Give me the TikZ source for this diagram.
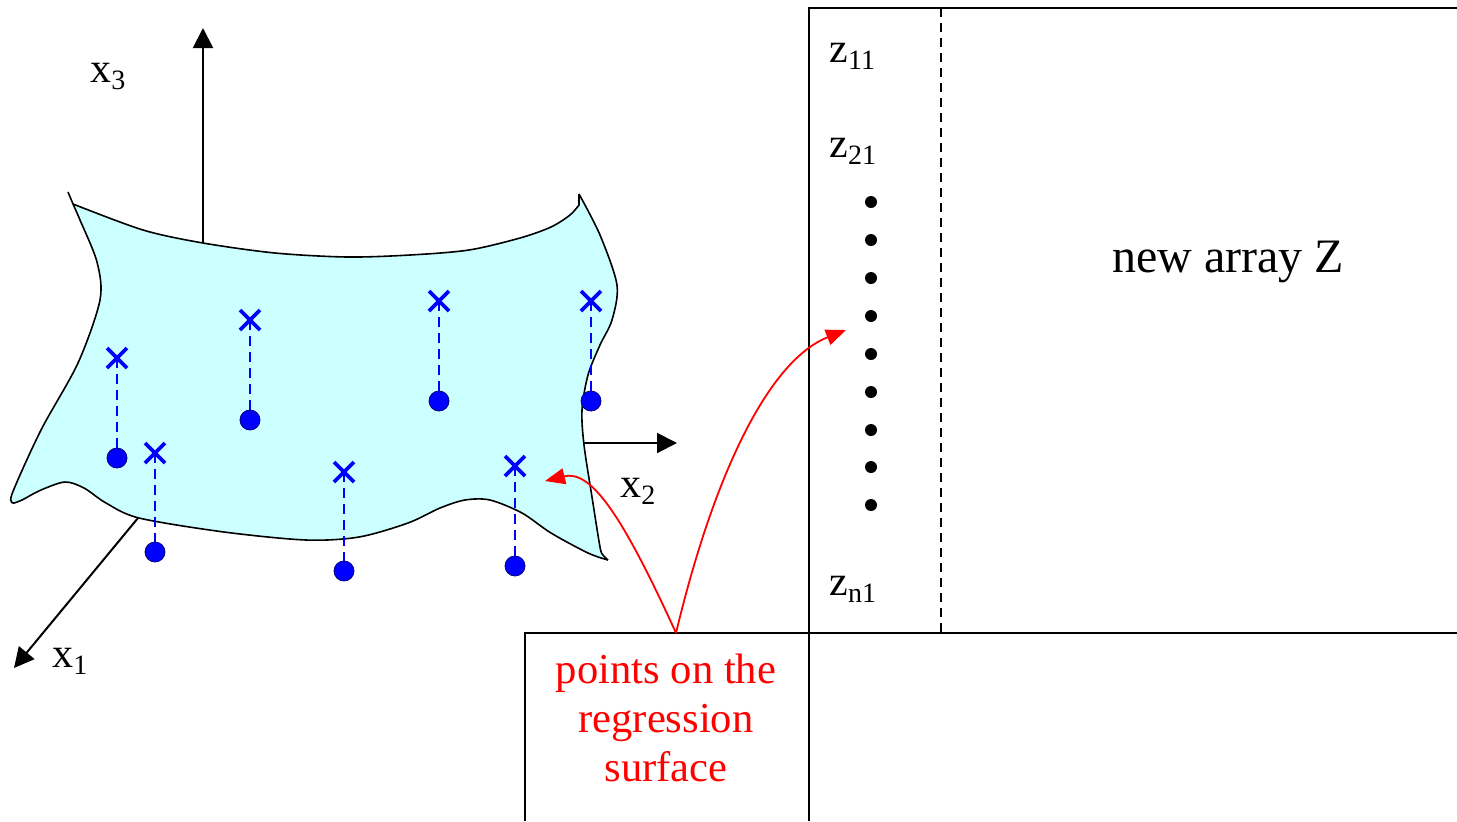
\documentclass[tikz,border=0pt]{standalone}
\usepackage{fontspec}
\setmainfont{Liberation Serif}
\usetikzlibrary{arrows.meta}
\definecolor{surfcyan}{HTML}{CCFFFF}
\newcommand\lbl[2]{#1\raisebox{-3.8pt}{\fontsize{14}{14}\selectfont #2}}
\begin{document}
\begin{tikzpicture}[x=0.5pt,y=-0.5pt,
  axis/.style={line width=1pt,-{Triangle[length=10pt,width=10pt]}},
  redarrow/.style={red,line width=0.9pt,-{Triangle[length=10pt,width=8pt]}},
  edgeline/.style={line width=0.8pt},
  lab/.style={font=\fontsize{21}{21}\selectfont,inner sep=0pt,anchor=base west},
  crossmark/.style={blue,line width=1.8pt},
  proj/.style={blue,line width=0.9pt,dash pattern=on 5pt off 3pt},
  datadot/.style={fill=blue,draw=blue!50!black,line width=0.4pt},
  tdot/.style={fill=black,circle,inner sep=0pt,minimum size=6pt},
  tableline/.style={line width=1pt},
]
\useasboundingbox (0,0) rectangle (1457,821);

% axes
\coordinate (o3) at (203,243); \coordinate (e3) at (203,28);
\coordinate (o2) at (584,443); \coordinate (e2) at (677,443);
\coordinate (o1) at (138,518); \coordinate (e1) at (14,668);
\draw[axis] (o3) -- (e3);
\draw[axis] (o2) -- (e2);
\draw[axis] (o1) -- (e1);

% surface
\path[fill=surfcyan] plot[smooth] coordinates {(73,204) (143,230) (203,243) (275,253) (347,257) (410,255) (469,250) (520,238) (551,227) (570,215) (579,205)}
  -- (579,194)
  -- plot[smooth] coordinates {(579,194) (600,235) (617,285) (612,320) (600,345) (588,375) (582,410) (584,445) (592,497) (600,547) (603,555) (608,560)}
  -- plot[smooth] coordinates {(608,560) (588,553) (551,533) (522,513) (490,500) (465,500) (440,508) (408,523) (359,537) (306,540) (224,532) (139,518) (106,503) (84,488) (65,482) (41,490) (22,500) (14,503)}
  -- plot[smooth] coordinates {(14,503) (12,494) (41,430) (78,363) (100,300) (97,262) (80,220) (73,204)} -- cycle;
\draw[edgeline] (68,192) -- (73,204);
\draw[edgeline] plot[smooth] coordinates {(73,204) (143,230) (203,243) (275,253) (347,257) (410,255) (469,250) (520,238) (551,227) (570,215) (579,205)} -- (579,194);
\draw[edgeline] plot[smooth] coordinates {(579,194) (600,235) (617,285) (612,320) (600,345) (588,375) (582,410) (584,445) (592,497) (600,547) (603,555) (608,560)};
\draw[edgeline] plot[smooth] coordinates {(608,560) (588,553) (551,533) (522,513) (490,500) (465,500) (440,508) (408,523) (359,537) (306,540) (224,532) (139,518) (106,503) (84,488) (65,482) (41,490) (22,500) (14,503)};
\draw[edgeline] plot[smooth] coordinates {(14,503) (12,494) (41,430) (78,363) (100,300) (97,262) (80,220) (73,204)};

% data points
\foreach \px/\yc/\yd [count=\i] in {117/358/458, 250/320/420, 439/301/401, 591/301/401, 155/453/552, 344/472/571, 515/466/566} {
  \coordinate (c\i) at (\px,\yc);
  \coordinate (d\i) at (\px,\yd);
  \draw[proj] (c\i) -- (d\i);
  \draw[crossmark] ([shift={(-5pt,-5pt)}]c\i) -- ([shift={(5pt,5pt)}]c\i)
                   ([shift={(-5pt,5pt)}]c\i) -- ([shift={(5pt,-5pt)}]c\i);
  \filldraw[datadot] (d\i) circle[radius=5pt];
}

% axis labels
\node[lab] (lx3) at (90,82) {\lbl{x}{3}};
\node[lab] (lx2) at (620,497) {\lbl{x}{2}};
\node[lab] (lx1) at (52,667) {\lbl{x}{1}};

% table
\draw[tableline] (809,821) -- (809,8) -- (1457,8);
\draw[tableline] (525,821) -- (525,633) -- (1457,633);
\draw[line width=0.8pt,dash pattern=on 4.5pt off 3pt] (941,8) -- (941,633);

\node[lab] (z11) at (829,62) {\lbl{z}{11}};
\node[lab] (z21) at (829,157) {\lbl{z}{21}};
\node[lab] (zn1) at (829,595) {\lbl{z}{n1}};
\foreach \yy [count=\j] in {202,240,278,316,354,392,430,467,505} {
  \node[tdot] (dot\j) at (871,\yy) {};
}
\node[font=\fontsize{24}{24}\selectfont,inner sep=0pt,anchor=base] (arr) at (1228,272) {new array Z};

% red label and arrows
\node[font=\fontsize{21.3}{24.5}\selectfont,text=red,align=center,inner sep=0pt,anchor=north] (pts) at (666,654) {points on the\\regression\\surface};
\coordinate (src) at (676,633);
\coordinate (tip1) at (545,481);
\coordinate (tip2) at (846,330);
\draw[redarrow] (src) .. controls (620,510) and (590,470) .. (tip1);
\draw[redarrow] (src) .. controls (715,470) and (770,360) .. (tip2);
\end{tikzpicture}
\end{document}
